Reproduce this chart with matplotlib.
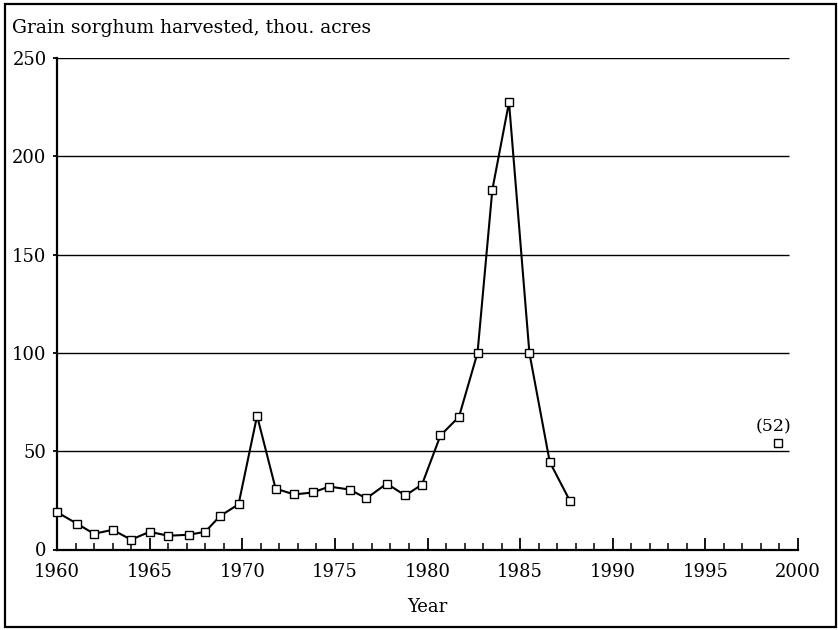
import matplotlib.pyplot as plt
from matplotlib.patches import Rectangle
from matplotlib.ticker import MultipleLocator

# year positions as drawn (the plotted marks drift a little from the ticks)
yr = [1960.0, 1961.1, 1962.0, 1963.0, 1964.0, 1965.0, 1966.0, 1967.1, 1968.0, 1968.8,
      1969.8, 1970.8, 1971.8, 1972.8, 1973.8, 1974.7, 1975.8, 1976.7, 1977.8, 1978.8,
      1979.7, 1980.7, 1981.7, 1982.7, 1983.5, 1984.4, 1985.5, 1986.6, 1987.7]
acres = [19, 13, 8, 10, 5, 9, 7, 7.5, 9, 17,
         23, 68, 31, 28, 29, 32, 30.5, 26, 33.5, 27.5,
         33, 58, 67.5, 100, 183, 227.5, 100, 44.5, 24.5]
yr_extra = [1998.9]
acres_extra = [54]
extra_label = "(52)"
xticks = [1960, 1965, 1970, 1975, 1980, 1985, 1990, 1995, 2000]
yticks = [0, 50, 100, 150, 200, 250]
title = "Grain sorghum harvested, thou. acres"

plt.rcParams['font.family'] = ['DejaVu Serif']

fig = plt.figure(figsize=(8.38, 6.30), dpi=100)
ax = fig.add_axes([57/838, 80.5/630, 741/838, 491.5/630])

# frame round the whole figure
fig.patches.append(Rectangle((5/838, 3/630), 831/838, 623/630, transform=fig.transFigure,
                             fill=False, lw=1.6, ec='black'))

ax.hlines(yticks[1:], 1960, 1999.5, colors='black', lw=1.0)

ax.plot(yr, acres, color='black', lw=1.5, marker='s', ms=6, mfc='white', mec='black',
        mew=1.0, clip_on=False, zorder=3)
ax.plot(yr_extra, acres_extra, ls='none', marker='s', ms=6, mfc='white', mec='black',
        mew=1.0, clip_on=False, zorder=3)
ax.text(yr_extra[0] - 0.2, acres_extra[0] + 4, extra_label, ha='center', va='bottom', fontsize=12.5)

ax.set_xlim(1960, 2000)
ax.set_ylim(0, 250)
ax.set_xticks(xticks)
ax.xaxis.set_minor_locator(MultipleLocator(1))
ax.set_yticks(yticks)

for s in ['top', 'right']:
    ax.spines[s].set_visible(False)
for s in ['left', 'bottom']:
    ax.spines[s].set_linewidth(1.6)

ax.tick_params(axis='x', which='major', direction='in', length=9, width=1.3, pad=10, labelsize=13)
ax.tick_params(axis='x', which='minor', direction='in', length=5, width=1.1)
ax.tick_params(axis='y', which='major', direction='out', length=3, width=1.3, pad=4.5, labelsize=13)

ax.set_xlabel("Year", fontsize=13, labelpad=12)
fig.text(12/838, 1 - 33/630, title, fontsize=13.5, ha='left', va='baseline')

fig.savefig("out.png", dpi=100)
